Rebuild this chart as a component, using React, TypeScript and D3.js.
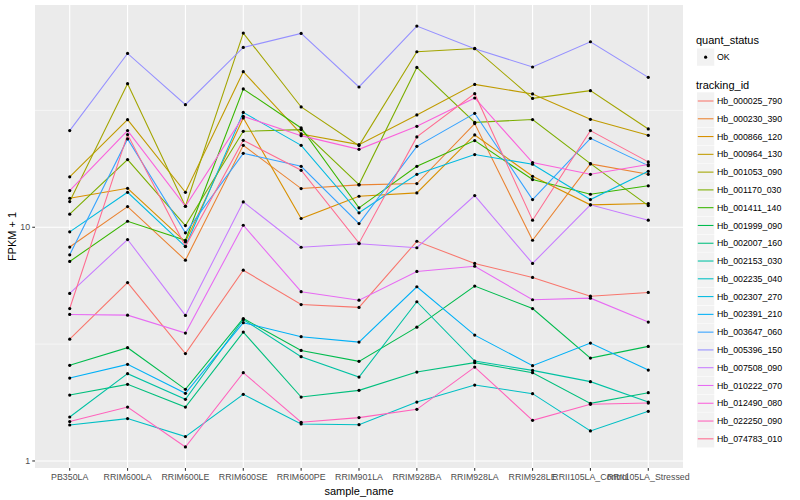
import React, { useEffect, useRef } from 'react'
import * as d3 from 'd3'

// sample order on the x axis
const samples = [
  'PB350LA', 'RRIM600LA', 'RRIM600LE', 'RRIM600SE', 'RRIM600PE', 'RRIM901LA',
  'RRIM928BA', 'RRIM928LA', 'RRIM928LE', 'RRII105LA_Control', 'RRII105LA_Stressed'
]

const trackingIds = [
  'Hb_000025_790', 'Hb_000230_390', 'Hb_000866_120', 'Hb_000964_130', 'Hb_001053_090',
  'Hb_001170_030', 'Hb_001411_140', 'Hb_001999_090', 'Hb_002007_160', 'Hb_002153_030',
  'Hb_002235_040', 'Hb_002307_270', 'Hb_002391_210', 'Hb_003647_060', 'Hb_005396_150',
  'Hb_007508_090', 'Hb_010222_070', 'Hb_012490_080', 'Hb_022250_090', 'Hb_074783_010'
]

// FPKM + 1, one value per sample
const hb000025_790 = [3.32, 5.8, 2.88, 6.55, 4.67, 4.54, 8.71, 7.0, 6.1, 5.07, 5.26]
const hb000230_390 = [8.23, 12.26, 7.23, 22.41, 14.64, 15.18, 15.38, 27.76, 8.8, 18.67, 16.85]
const hb000866_120 = [13.31, 14.68, 8.66, 29.36, 10.9, 13.57, 14.03, 24.83, 16.52, 12.47, 12.63]
const hb000964_130 = [16.43, 28.87, 14.11, 46.3, 25.08, 22.57, 30.24, 40.86, 37.18, 28.95, 24.74]
const hb001053_090 = [12.88, 41.15, 12.3, 67.76, 32.71, 22.35, 56.37, 58.23, 35.6, 38.41, 26.34]
const hb001170_030 = [11.37, 19.48, 10.17, 25.73, 26.17, 15.23, 48.3, 28.11, 28.9, 18.73, 12.38]
const hb001411_140 = [7.14, 10.61, 8.8, 39.06, 26.6, 12.11, 18.23, 23.48, 16.0, 13.84, 15.04]
const hb001999_090 = [2.565, 3.052, 2.025, 4.07, 2.972, 2.668, 3.738, 5.6, 4.49, 2.755, 3.092]
const hb002007_160 = [1.914, 2.127, 1.701, 3.56, 1.877, 2.005, 2.401, 2.634, 2.387, 1.764, 1.96]
const hb002153_030 = [1.542, 2.363, 1.835, 4.03, 2.794, 2.286, 4.8, 2.676, 2.441, 2.185, 1.787]
const hb002235_040 = [1.425, 1.518, 1.271, 1.928, 1.439, 1.43, 1.787, 2.113, 1.941, 1.344, 1.631]
const hb002307_270 = [9.56, 14.11, 8.27, 31.01, 22.41, 11.53, 16.85, 20.46, 18.6, 13.14, 17.35]
const hb002391_210 = [2.263, 2.59, 1.947, 3.904, 3.402, 3.226, 5.565, 3.455, 2.557, 3.194, 2.448]
const hb003647_060 = [7.62, 23.87, 9.47, 20.72, 18.23, 10.37, 22.2, 30.72, 13.14, 24.02, 18.35]
const hb005396_150 = [25.91, 55.42, 33.46, 58.8, 67.5, 39.83, 72.6, 58.05, 48.5, 62.2, 43.8]
const hb007508_090 = [5.21, 8.86, 4.195, 12.84, 8.21, 8.5, 8.17, 13.66, 7.0, 12.47, 10.72]
const hb010222_070 = [4.236, 4.207, 3.524, 10.2, 5.3, 4.876, 6.47, 6.81, 4.895, 4.973, 3.928]
const hb012490_080 = [14.35, 25.91, 12.3, 29.82, 24.66, 21.55, 27.03, 35.74, 18.91, 16.85, 18.54]
const hb022250_090 = [1.474, 1.701, 1.148, 2.387, 1.464, 1.533, 1.663, 2.522, 1.493, 1.747, 1.769]
const hb074783_010 = [4.49, 24.91, 8.29, 23.55, 17.53, 8.55, 24.35, 37.29, 10.72, 25.91, 19.04]

const seriesValues = [
  hb000025_790, hb000230_390, hb000866_120, hb000964_130, hb001053_090,
  hb001170_030, hb001411_140, hb001999_090, hb002007_160, hb002153_030,
  hb002235_040, hb002307_270, hb002391_210, hb003647_060, hb005396_150,
  hb007508_090, hb010222_070, hb012490_080, hb022250_090, hb074783_010
]

// ggplot default hue palette for 20 groups
const palette = [
  '#F8766D', '#EA8331', '#D89000', '#C09B00', '#A3A500', '#7CAE00', '#39B600', '#00BB4E',
  '#00BF7D', '#00C1A3', '#00BFC4', '#00BAE0', '#00B0F6', '#35A2FF', '#9590FF', '#C77CFF',
  '#E76BF3', '#FA62DB', '#FF62BC', '#FF6C91'
]

const FONT = '"Liberation Sans", Arial, Helvetica, sans-serif'

export default function App() {
  const svgRef = useRef<SVGSVGElement>(null)
  const width = 800
  const height = 500
  const panel = { left: 35, right: 683, top: 5, bottom: 468 }

  useEffect(() => {
    if (!svgRef.current) return
    const svg = d3.select(svgRef.current)
    svg.selectAll('*').remove()

    const x = d3.scalePoint<string>()
      .domain(samples)
      .range([panel.left, panel.right])
      .padding(0.6)

    // log scale with ggplot's 5% expansion in log space
    const all = seriesValues.flat()
    const lo = Math.log10(d3.min(all) as number)
    const hi = Math.log10(d3.max(all) as number)
    const pad = (hi - lo) * 0.05
    const y = d3.scaleLog()
      .domain([Math.pow(10, lo - pad), Math.pow(10, hi + pad)])
      .range([panel.bottom, panel.top])

    // panel background
    svg.append('rect')
      .attr('x', panel.left)
      .attr('y', panel.top)
      .attr('width', panel.right - panel.left)
      .attr('height', panel.bottom - panel.top)
      .attr('fill', '#EBEBEB')

    const [d0, d1] = y.domain()
    const majors = [1, 10, 100].filter(v => v >= d0 && v <= d1)
    const minors = [Math.sqrt(10), Math.sqrt(1000)].filter(v => v >= d0 && v <= d1)

    svg.append('g').selectAll('line')
      .data(minors)
      .enter().append('line')
      .attr('x1', panel.left).attr('x2', panel.right)
      .attr('y1', d => y(d)).attr('y2', d => y(d))
      .attr('stroke', '#fff').attr('stroke-width', 0.53)

    svg.append('g').selectAll('line')
      .data(majors)
      .enter().append('line')
      .attr('x1', panel.left).attr('x2', panel.right)
      .attr('y1', d => y(d)).attr('y2', d => y(d))
      .attr('stroke', '#fff').attr('stroke-width', 1.07)

    svg.append('g').selectAll('line')
      .data(samples)
      .enter().append('line')
      .attr('x1', d => x(d) as number).attr('x2', d => x(d) as number)
      .attr('y1', panel.top).attr('y2', panel.bottom)
      .attr('stroke', '#fff').attr('stroke-width', 1.07)

    // lines
    const line = d3.line<number>()
      .x((_, i) => x(samples[i]) as number)
      .y(d => y(d))

    svg.append('g').selectAll('path')
      .data(seriesValues)
      .enter().append('path')
      .attr('d', d => line(d))
      .attr('fill', 'none')
      .attr('stroke', (_, i) => palette[i])
      .attr('stroke-width', 1.07)

    // points
    const pts = seriesValues.flatMap(vals => vals.map((v, i) => ({ s: samples[i], v })))
    svg.append('g').selectAll('circle')
      .data(pts)
      .enter().append('circle')
      .attr('cx', d => x(d.s) as number)
      .attr('cy', d => y(d.v))
      .attr('r', 1.6)
      .attr('fill', '#000')

    // y axis
    const yAxis = svg.append('g').attr('font-family', FONT)
    majors.forEach(v => {
      yAxis.append('line')
        .attr('x1', panel.left - 2.74).attr('x2', panel.left)
        .attr('y1', y(v)).attr('y2', y(v))
        .attr('stroke', '#333').attr('stroke-width', 1.07)
      yAxis.append('text')
        .attr('x', panel.left - 4.9)
        .attr('y', y(v))
        .attr('dy', '0.35em')
        .attr('text-anchor', 'end')
        .attr('font-size', 8.8)
        .attr('fill', '#4D4D4D')
        .text(String(v))
    })

    // x axis
    const xAxis = svg.append('g').attr('font-family', FONT)
    samples.forEach(s => {
      xAxis.append('line')
        .attr('x1', x(s) as number).attr('x2', x(s) as number)
        .attr('y1', panel.bottom).attr('y2', panel.bottom + 2.74)
        .attr('stroke', '#333').attr('stroke-width', 1.07)
      xAxis.append('text')
        .attr('x', x(s) as number)
        .attr('y', panel.bottom + 12)
        .attr('text-anchor', 'middle')
        .attr('font-size', 8.8)
        .attr('fill', '#4D4D4D')
        .text(s)
    })

    // axis titles
    svg.append('text')
      .attr('x', (panel.left + panel.right) / 2)
      .attr('y', 495)
      .attr('text-anchor', 'middle')
      .attr('font-family', FONT)
      .attr('font-size', 11)
      .attr('fill', '#000')
      .text('sample_name')

    svg.append('text')
      .attr('transform', `translate(16,${(panel.top + panel.bottom) / 2}) rotate(-90)`)
      .attr('text-anchor', 'middle')
      .attr('font-family', FONT)
      .attr('font-size', 11)
      .attr('fill', '#000')
      .text('FPKM + 1')

    // legends
    const lg = svg.append('g').attr('font-family', FONT)
    const keyX = 697
    const keySize = 17.28

    lg.append('text')
      .attr('x', 696).attr('y', 44)
      .attr('font-size', 11)
      .text('quant_status')
    lg.append('rect')
      .attr('x', keyX).attr('y', 48.5)
      .attr('width', keySize).attr('height', keySize)
      .attr('fill', '#F2F2F2')
    lg.append('circle')
      .attr('cx', keyX + keySize / 2).attr('cy', 48.5 + keySize / 2)
      .attr('r', 1.6).attr('fill', '#000')
    lg.append('text')
      .attr('x', 717).attr('y', 48.5 + keySize / 2)
      .attr('dy', '0.35em')
      .attr('font-size', 8.8)
      .text('OK')

    lg.append('text')
      .attr('x', 696).attr('y', 89)
      .attr('font-size', 11)
      .text('tracking_id')

    const step = 17.78
    trackingIds.forEach((id, i) => {
      const cy = 101 + i * step
      lg.append('rect')
        .attr('x', keyX).attr('y', cy - keySize / 2)
        .attr('width', keySize).attr('height', keySize)
        .attr('fill', '#F2F2F2')
      lg.append('line')
        .attr('x1', keyX + 0.8).attr('x2', keyX + keySize - 0.8)
        .attr('y1', cy).attr('y2', cy)
        .attr('stroke', palette[i]).attr('stroke-width', 1.07)
      lg.append('text')
        .attr('x', 717).attr('y', cy)
        .attr('dy', '0.35em')
        .attr('font-size', 8.8)
        .text(id)
    })
  }, [])

  return (
    <svg
      ref={svgRef}
      width={width}
      height={height}
      style={{ position: 'absolute', left: 0, top: 0, background: '#fff' }}
    />
  )
}
